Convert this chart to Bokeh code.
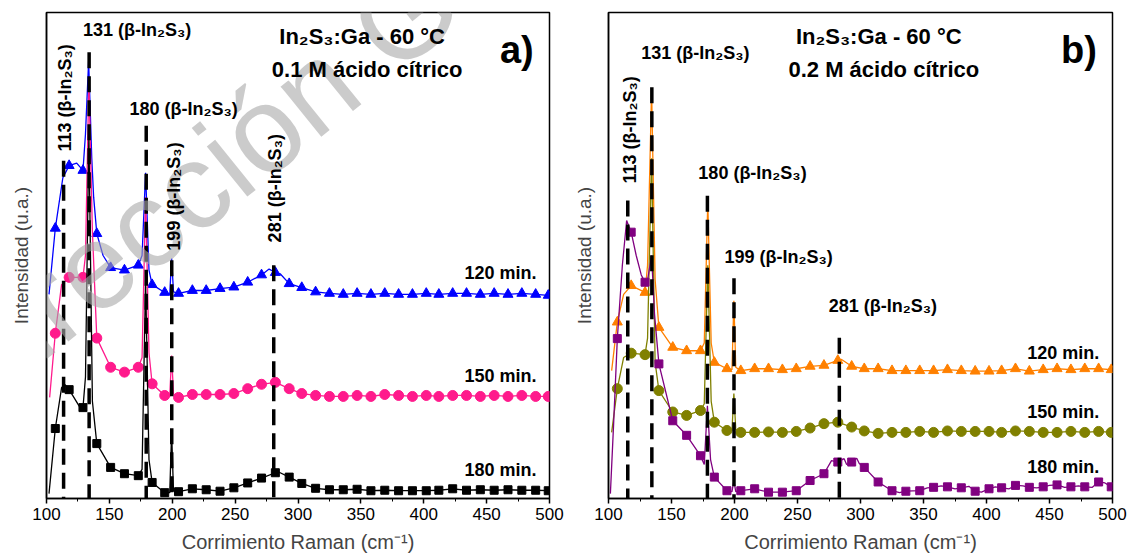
import numpy as np
from bokeh.plotting import figure
from bokeh.layouts import row
from bokeh.models import Label, Range1d, SingleIntervalTicker, FixedTicker
from bokeh.embed import file_html
from bokeh.resources import INLINE

FONT = "Liberation Sans"

# marker positions (Raman shift, cm-1), same for every series
mx = [107, 118, 129, 140, 151, 162, 173, 184, 194, 205, 216, 227, 238, 249, 260, 271, 282, 293, 303, 314,
      325, 336, 347, 358, 369, 380, 391, 402, 412, 423, 434, 445, 456, 467, 478, 489, 499]

# ---------- panel a : 0.1 M citric acid ----------
a120_y = [55.6, 68.5, 67.5, 54.5, 47.5, 47, 48, 44, 42.4, 42.2, 42.8, 42.8, 43.2, 43.5, 44.5, 46, 46.5, 44.2, 43.4, 42.5,
          42.2, 42, 42.2, 42, 42.2, 42, 42, 42.2, 42, 42.2, 42.2, 42, 42.2, 42, 42.2, 42, 41.8]
a120_ex = [102, 113, 124, 131, 133.5, 136, 137.5, 145, 176, 178.8, 181.5, 198, 199.5, 201, 277, 286]
a120_ey = [42, 66, 69, 75, 90, 70, 62, 50, 50, 67, 47, 42, 49.4, 42.5, 47.2, 46.2]

a150_y = [34, 45.5, 45.5, 33, 27, 26, 27, 23.6, 21.2, 20.8, 21.4, 21.4, 21.4, 21.6, 22.6, 23.5, 23.9, 22.6, 21.6, 21.2,
          21, 21, 21.2, 21, 21.4, 21.2, 21, 21.2, 21, 21.2, 21.2, 21, 21.2, 21, 21.2, 21, 21]
a150_ex = [102.5, 112, 131, 133.7, 136.5, 176, 178.8, 181.5, 198, 199.5, 201]
a150_ey = [20.8, 44, 50, 86, 55, 29, 62, 30, 21, 29.4, 21.5]

a180_y = [14.4, 22.4, 18.7, 11.3, 6.4, 5.1, 4.7, 3.3, 1.2, 1.4, 2, 1.8, 1.5, 2.2, 3.2, 4.2, 5.3, 4.4, 3.1, 2.1,
          1.8, 1.8, 1.9, 1.6, 1.7, 1.6, 1.6, 1.6, 1.7, 2.0, 1.7, 1.8, 1.7, 1.8, 1.7, 1.7, 1.6]
a180_ex = [102, 112, 114.5, 126, 131, 133.7, 136.5, 176, 178.8, 181.5, 198, 199.5, 201, 285]
a180_ey = [1, 22.8, 23.5, 19, 25, 75, 20, 6, 45, 8, 1.2, 13.6, 1.5, 5.4]

# ---------- panel b : 0.2 M citric acid ----------
b120_y = [36.3, 43.8, 42.4, 35.2, 31.1, 30.4, 30.4, 28, 26.7, 26.3, 26.7, 26.7, 26.5, 26.7, 27.2, 27.4, 28.4, 27.2, 26.7, 26.7,
          26.3, 26.3, 26.3, 26.3, 26.5, 26.3, 26.2, 26.2, 26.3, 26.7, 26.2, 26.5, 26.7, 26.5, 26.7, 26.7, 26.5]
b120_ex = [102.5, 112, 131, 134.2, 137, 176, 178.8, 181.5, 198, 199.5, 201, 285]
b120_ey = [26.3, 42, 48, 84, 45, 32, 61, 32, 26.5, 40.7, 27, 28.6]

b150_y = [22.6, 29.9, 29.6, 22.2, 17.8, 17.1, 18.1, 15.7, 14, 13.6, 13.6, 13.7, 13.6, 13.8, 14.5, 15.4, 15.7, 14.7, 13.9, 13.4,
          13.6, 13.6, 13.8, 13.6, 13.9, 13.8, 13.8, 13.8, 13.6, 13.9, 13.8, 13.6, 13.6, 13.8, 13.6, 13.8, 13.6]
b150_ex = [102.5, 112, 131, 134.2, 137, 176, 178.8, 181.5, 198, 199.5, 201]
b150_ey = [13.6, 29, 33, 70, 28, 19.5, 48, 20, 14, 21.6, 14.2]

b180_y = [32.9, 54.8, 44.5, 27.7, 16, 13, 8.8, 4.4, 1.6, 1.6, 2, 1.3, 1.3, 1.6, 3.7, 5.1, 7.5, 7.5, 6.4, 3.4,
          1.6, 1.5, 1.6, 2.3, 2.4, 2.2, 1.5, 2, 2.2, 2.7, 2.3, 2.4, 2.8, 2.4, 2.4, 3.4, 2.4]
b180_ex = [101.5, 104, 111, 114.4, 122, 126, 131, 134.2, 136.5, 176, 178.5, 181, 198, 199.5, 201,
           277, 287, 289, 297, 299, 331, 353, 364, 375, 386, 396, 407, 418, 429, 440, 450, 462, 473, 484, 494]
b180_ey = [1, 15, 48, 57.2, 50, 46, 45, 50, 38, 7, 19.1, 8, 1.4, 3.7, 1.4,
           7.8, 8.2, 7.0, 8.3, 7.2, 1.2, 2.2, 2.6, 2.0, 2.5, 1.3, 2.4, 2.0, 2.6, 2.2, 2.7, 2.3, 2.6, 2.3, 3.2]

# reference peak lines: position, top of line
a_peaks = [113.6, 133.9, 179.3, 199.6, 280.7]
a_tops = [69.5, 91.8, 76.7, 49, 48]
b_peaks = [115.3, 134.4, 178.5, 199.6, 283.2]
b_tops = [61.3, 84.6, 62.3, 45.3, 33.1]

SUB = "(β-In₂S₃)"


def merged(xs, ys, ex, ey):
    x = np.array(list(xs) + list(ex), dtype=float)
    y = np.array(list(ys) + list(ey), dtype=float)
    o = np.argsort(x, kind="stable")
    return x[o], y[o]


def make_panel(width, mbl, mbr, ystand):
    p = figure(width=width, height=559, x_range=Range1d(100, 500), y_range=Range1d(0, 100),
               output_backend="svg", toolbar_location=None,
               min_border_left=mbl, min_border_right=mbr, min_border_top=12, min_border_bottom=61)
    p.background_fill_color = "white"
    p.border_fill_color = "white"
    p.grid.visible = False
    p.outline_line_color = "black"
    p.outline_line_width = 1.5
    p.xaxis.ticker = SingleIntervalTicker(interval=50, num_minor_ticks=2)
    p.xaxis.major_tick_in = 0
    p.xaxis.major_tick_out = 5
    p.xaxis.minor_tick_in = 0
    p.xaxis.minor_tick_out = 3
    p.xaxis.axis_line_width = 1.5
    p.xaxis.major_tick_line_width = 1.5
    p.xaxis.major_label_text_font = FONT
    p.xaxis.major_label_text_font_size = "17px"
    p.xaxis.major_label_text_color = "black"
    p.xaxis.major_label_standoff = 4
    p.xaxis.axis_label = "Corrimiento Raman (cm⁻¹)"
    p.xaxis.axis_label_text_font = FONT
    p.xaxis.axis_label_text_font_size = "20px"
    p.xaxis.axis_label_text_font_style = "normal"
    p.xaxis.axis_label_standoff = 8
    p.yaxis.ticker = FixedTicker(ticks=[])
    p.yaxis.minor_tick_line_color = None
    p.yaxis.major_tick_line_color = None
    p.yaxis.axis_line_width = 1.5
    p.yaxis.axis_label = "Intensidad (u.a.)"
    p.yaxis.axis_label_text_font = FONT
    p.yaxis.axis_label_text_font_size = "19px"
    p.yaxis.axis_label_text_font_style = "normal"
    p.yaxis.axis_label_standoff = ystand
    return p


def add_series(p, ys, ex, ey, color, marker, size):
    lx, ly = merged(mx, ys, ex, ey)
    p.line(lx, ly, line_color=color, line_width=1.3)
    p.scatter(mx, ys, marker=marker, size=size, fill_color=color, line_color=color)


def add_peaks(p, xs, tops):
    for x, t in zip(xs, tops):
        p.segment(x0=[x], y0=[t], x1=[x], y1=[0], line_color="black", line_width=3.5, line_dash="16 8")


def lab(p, x, y, text, size, angle=0, align="center", baseline="middle", bold=True):
    p.add_layout(Label(x=x, y=y, text=text, text_font=FONT, text_font_size=f"{size}px",
                       text_font_style="bold" if bold else "normal", text_color="black",
                       angle=angle, angle_units="deg", text_align=align, text_baseline=baseline))


# ---------------- panel a ----------------
pa = make_panel(569, 46, 20, 15)
add_series(pa, a120_y, a120_ex, a120_ey, "#0000FF", "triangle", 10)
add_series(pa, a150_y, a150_ex, a150_ey, "#FF1A8C", "circle", 10)
add_series(pa, a180_y, a180_ex, a180_ey, "#000000", "square", 8)
add_peaks(pa, a_peaks, a_tops)
# translucent watermark (drawn over the plot and its left margin)
pa.add_layout(Label(x=20, y=23, text="Dirección General", text_font=FONT,
                    text_font_size="122px", text_color="#a8a8a8", text_alpha=0.6, angle=39, angle_units="deg",
                    text_align="left", text_baseline="alphabetic", level="annotation"))
lab(pa, 114.4, 71.4, "113 " + SUB, 18, angle=90, align="left")
lab(pa, 172, 96.3, "131 " + SUB, 18)
lab(pa, 209, 80.2, "180 " + SUB, 18)
lab(pa, 201, 51, "199 " + SUB, 18, angle=90, align="left")
lab(pa, 281.5, 52.7, "281 " + SUB, 18, angle=90, align="left")
lab(pa, 351, 95.1, "In₂S₃:Ga - 60 °C", 22)
lab(pa, 355, 88.3, "0.1 M ácido cítrico", 22)
lab(pa, 474, 92.2, "a)", 38)
lab(pa, 489.7, 46.5, "120 min.", 18, align="right")
lab(pa, 489.7, 25.3, "150 min.", 18, align="right")
lab(pa, 489.7, 5.8, "180 min.", 18, align="right")

# ---------------- panel b ----------------
pb = make_panel(562, 39, 19, 14)
add_series(pb, b120_y, b120_ex, b120_ey, "#FF8000", "triangle", 10)
add_series(pb, b150_y, b150_ex, b150_ey, "#808000", "circle", 10)
add_series(pb, b180_y, b180_ex, b180_ey, "#800080", "square", 8)
add_peaks(pb, b_peaks, b_tops)
lab(pb, 117, 64.8, "113 " + SUB, 18, angle=90, align="left")
lab(pb, 169, 91.6, "131 " + SUB, 18)
lab(pb, 214.3, 66.9, "180 " + SUB, 18)
lab(pb, 235, 49.6, "199 " + SUB, 18)
lab(pb, 317.7, 39.7, "281 " + SUB, 18)
lab(pb, 314.5, 95.1, "In₂S₃:Ga - 60 °C", 22)
lab(pb, 318.5, 88.3, "0.2 M ácido cítrico", 22)
lab(pb, 473.4, 92.2, "b)", 38)
lab(pb, 489.5, 30, "120 min.", 18, align="right")
lab(pb, 489.5, 17.7, "150 min.", 18, align="right")
lab(pb, 489.5, 6.4, "180 min.", 18, align="right")

layout = row(pa, pb)
open("out.html", "w").write(file_html(layout, INLINE))
